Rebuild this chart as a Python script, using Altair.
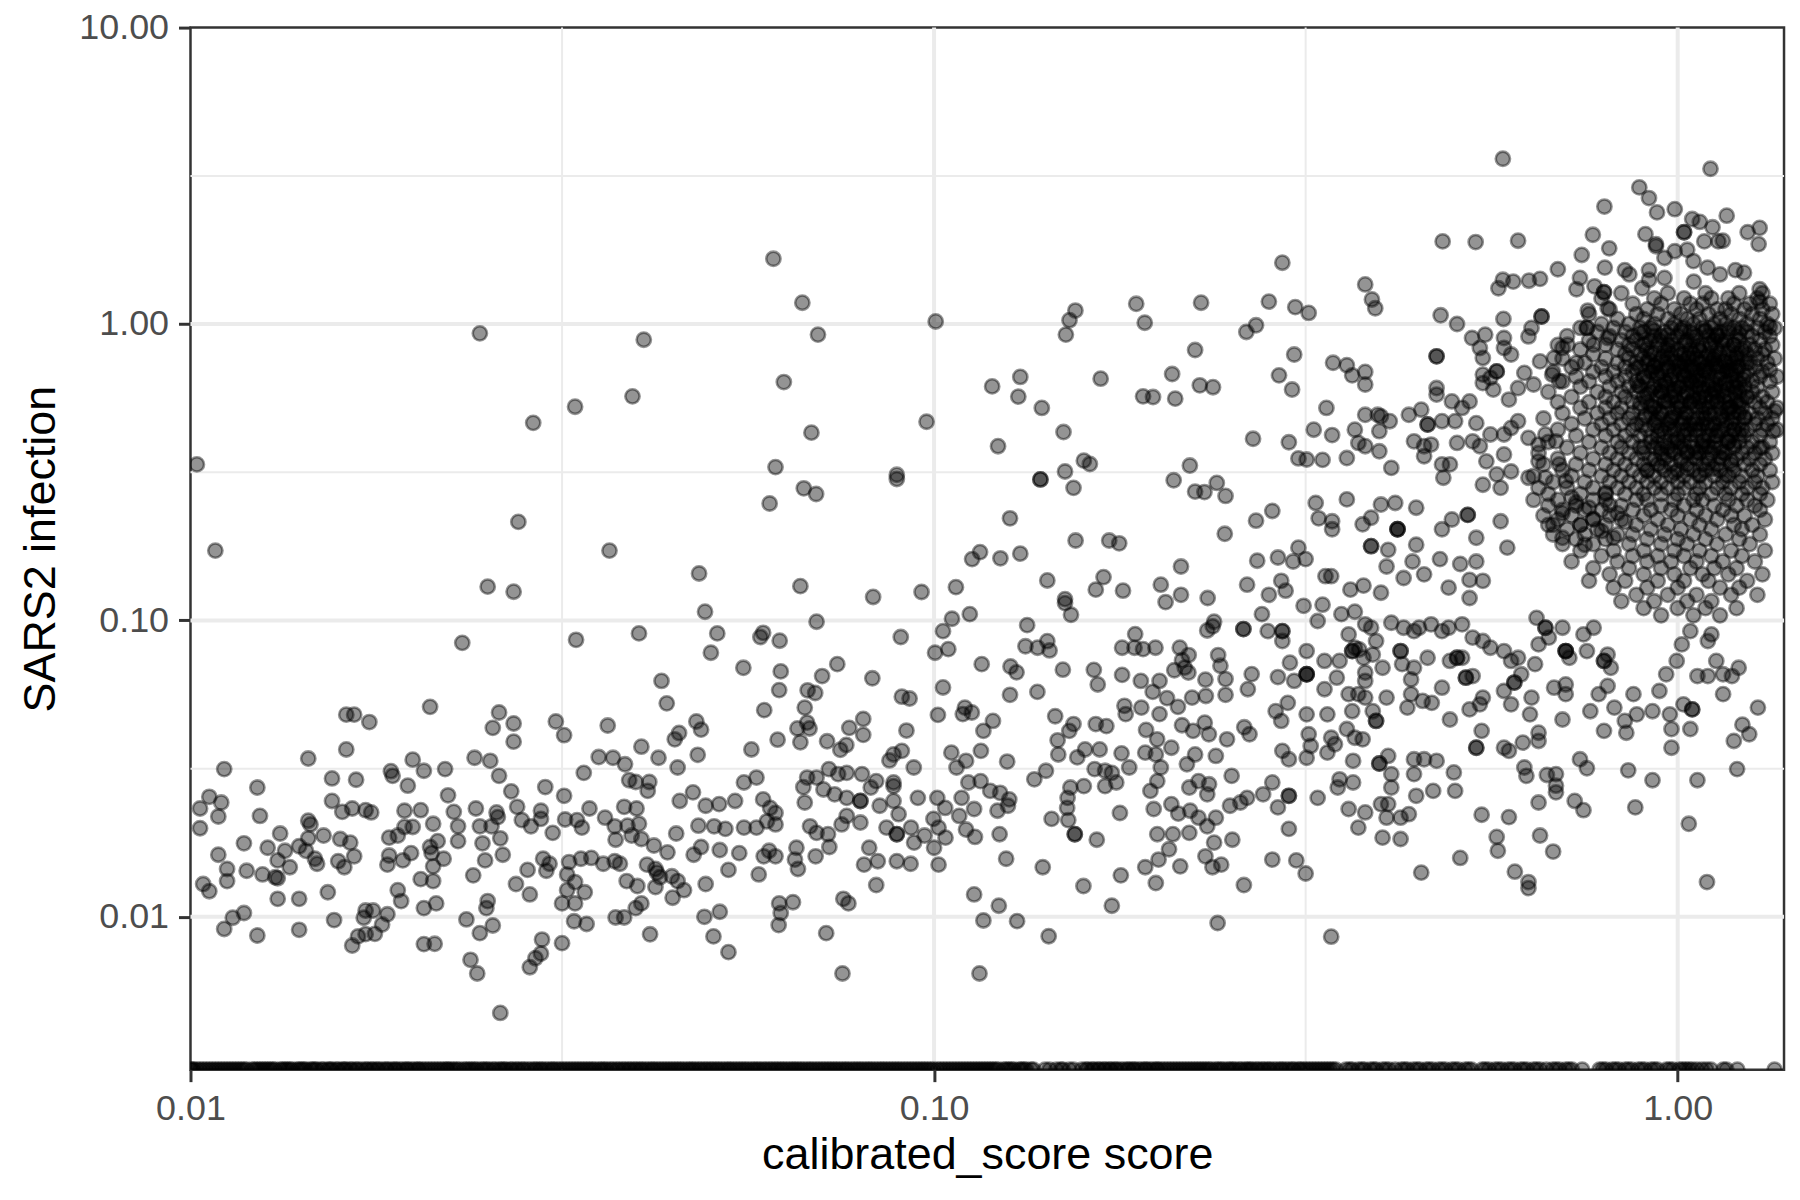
import altair as alt
import pandas as pd

# ---------------- data ----------------
# (score, infection) pairs, grouped by region of the plot
pts_far_left_top = [
    (0.0245, 0.93), (0.0407, 0.885), (0.0393, 0.57), (0.0329, 0.526), (0.0289, 0.464),
    (0.0102, 0.336), (0.0276, 0.215), (0.0108, 0.172), (0.0366, 0.172), (0.0251, 0.130),
    (0.0272, 0.125), (0.0483, 0.144), (0.0492, 0.107), (0.0232, 0.084), (0.0330, 0.086),
    (0.0401, 0.0904), (0.0511, 0.0904), (0.0501, 0.0778),
]

pts_far_left_low = [
    (0.0430, 0.0625), (0.0437, 0.0525), (0.0210, 0.0511), (0.0162, 0.0481), (0.0166, 0.0481),
    (0.0174, 0.0454), (0.0260, 0.0489), (0.0255, 0.0434), (0.0272, 0.0449), (0.0272, 0.0390),
    (0.0310, 0.0456), (0.0318, 0.0410), (0.0364, 0.0442), (0.0479, 0.0456), (0.0486, 0.0428),
    (0.0454, 0.0417), (0.0448, 0.0397), (0.0404, 0.0375), (0.0162, 0.0367), (0.0144, 0.0342),
    (0.0354, 0.0346), (0.0370, 0.0344), (0.0384, 0.0327), (0.0426, 0.0344), (0.0481, 0.0352),
    (0.0452, 0.0319), (0.0199, 0.0339), (0.0206, 0.0311), (0.0220, 0.0315), (0.0241, 0.0344),
    (0.0253, 0.0336), (0.0260, 0.0299), (0.0111, 0.0315), (0.0186, 0.0310), (0.0187, 0.0299),
    (0.0155, 0.0293), (0.0167, 0.0290), (0.0196, 0.0277), (0.0338, 0.0306), (0.0123, 0.0273),
    (0.0300, 0.0274), (0.0270, 0.0265), (0.0389, 0.0289), (0.0397, 0.0285), (0.0414, 0.0285),
    (0.0412, 0.0266), (0.0222, 0.0257), (0.0318, 0.0256), (0.0106, 0.0254), (0.0110, 0.0243),
    (0.0103, 0.0232), (0.0109, 0.0218), (0.0103, 0.0199), (0.0155, 0.0246), (0.0160, 0.0226),
    (0.0165, 0.0232), (0.0172, 0.0229), (0.0175, 0.0225), (0.0124, 0.0219), (0.0194, 0.0228),
    (0.0204, 0.0229), (0.0226, 0.0226), (0.0242, 0.0232), (0.0258, 0.0225), (0.0259, 0.0217),
    (0.0275, 0.0235), (0.0296, 0.0228), (0.0344, 0.0232), (0.0383, 0.0235), (0.0398, 0.0232),
    (0.0474, 0.0263), (0.0455, 0.0246), (0.0493, 0.0237), (0.0514, 0.0240), (0.0319, 0.0213),
    (0.0331, 0.0212), (0.0336, 0.0200), (0.0361, 0.0216), (0.0372, 0.0202), (0.0144, 0.0211),
    (0.0145, 0.0205), (0.0194, 0.0201), (0.0199, 0.0201), (0.0212, 0.0206), (0.0229, 0.0202),
    (0.0245, 0.0202), (0.0254, 0.0202), (0.0279, 0.0212), (0.0287, 0.0202), (0.0296, 0.0214),
    (0.0307, 0.0192), (0.0482, 0.0203), (0.0506, 0.0202), (0.0524, 0.0198), (0.0387, 0.0203),
    (0.0401, 0.0206), (0.0392, 0.0188), (0.0404, 0.0183), (0.0132, 0.0191), (0.0151, 0.0188),
    (0.0159, 0.0183), (0.0164, 0.0178), (0.0185, 0.0185), (0.0190, 0.0188), (0.0215, 0.0180),
    (0.0229, 0.0180), (0.0261, 0.0184), (0.0247, 0.0177), (0.0118, 0.0177), (0.0127, 0.0171),
    (0.0134, 0.0167), (0.0140, 0.0173), (0.0144, 0.0184), (0.0143, 0.0167), (0.0373, 0.0182),
    (0.0450, 0.0191), (0.0420, 0.0174), (0.0438, 0.0165), (0.0475, 0.0162), (0.0486, 0.0172),
    (0.0515, 0.0168), (0.0109, 0.0162), (0.0131, 0.0155), (0.0147, 0.0157), (0.0148, 0.0151),
    (0.0158, 0.0154), (0.0166, 0.0160), (0.0185, 0.0161), (0.0184, 0.0150), (0.0193, 0.0155),
    (0.0198, 0.0164), (0.0210, 0.0172), (0.0211, 0.0164), (0.0219, 0.0157), (0.0249, 0.0155),
    (0.0263, 0.0162), (0.0298, 0.0157), (0.0304, 0.0151), (0.0301, 0.0143), (0.0323, 0.0153),
    (0.0335, 0.0157), (0.0346, 0.0158), (0.0359, 0.0151), (0.0372, 0.0154), (0.0378, 0.0151),
    (0.0112, 0.0145), (0.0119, 0.0143), (0.0125, 0.0139), (0.0130, 0.0136), (0.0131, 0.0135),
    (0.0136, 0.0147), (0.0161, 0.0147), (0.0212, 0.0148), (0.0240, 0.0138), (0.0284, 0.0144),
    (0.0411, 0.0150), (0.0422, 0.0145), (0.0424, 0.0141), (0.0428, 0.0136), (0.0444, 0.0137),
    (0.0452, 0.0132), (0.0104, 0.0129), (0.0106, 0.0122), (0.0112, 0.0132), (0.0131, 0.0115),
    (0.0140, 0.0115), (0.0153, 0.0121), (0.0190, 0.0123), (0.0204, 0.0134), (0.0212, 0.0132),
    (0.0192, 0.0113), (0.0274, 0.0129), (0.0286, 0.0119), (0.0321, 0.0139), (0.0329, 0.0131),
    (0.0321, 0.0123), (0.0339, 0.0121), (0.0316, 0.0111), (0.0329, 0.0111), (0.0386, 0.0132),
    (0.0399, 0.0127), (0.0422, 0.0126), (0.0445, 0.0116), (0.0461, 0.0123), (0.0493, 0.0129),
    (0.0529, 0.0144), (0.0111, 0.00910), (0.0114, 0.00993), (0.0118, 0.0103), (0.0123, 0.00865),
    (0.0140, 0.00904), (0.0156, 0.00975), (0.0165, 0.00800), (0.0168, 0.00859), (0.0172, 0.00874),
    (0.0171, 0.00993), (0.0172, 0.0105), (0.0176, 0.0105), (0.0177, 0.00876), (0.0181, 0.00942),
    (0.0184, 0.0102), (0.0206, 0.0107), (0.0214, 0.0111), (0.0206, 0.00809), (0.0213, 0.00811),
    (0.0235, 0.00980), (0.0245, 0.00881), (0.0251, 0.0113), (0.0250, 0.0107), (0.0255, 0.00935),
    (0.0238, 0.00716), (0.0243, 0.00644), (0.0261, 0.00474), (0.0297, 0.00838), (0.0296, 0.00752),
    (0.0291, 0.00725), (0.0286, 0.00676), (0.0316, 0.00815), (0.0328, 0.00966), (0.0341, 0.00946),
    (0.0373, 0.00995), (0.0383, 0.00995), (0.0397, 0.0107), (0.0404, 0.0111), (0.0415, 0.00873),
    (0.0491, 0.0100), (0.0515, 0.0104), (0.0505, 0.00859), (0.0529, 0.00760),
]

pts_mid_top = [
    (0.0608, 1.66), (0.0665, 1.18), (0.0698, 0.921), (0.1005, 1.02), (0.0628, 0.637),
    (0.0684, 0.430), (0.0977, 0.468), (0.0612, 0.329), (0.0668, 0.279), (0.0694, 0.267),
    (0.0601, 0.248), (0.0891, 0.310), (0.0891, 0.300), (0.1197, 0.616), (0.1306, 0.663),
    (0.1298, 0.569), (0.1396, 0.521), (0.1493, 0.432), (0.1219, 0.387), (0.1549, 1.11),
    (0.1521, 1.03), (0.1504, 0.921), (0.187, 1.17), (0.192, 1.01), (0.2286, 1.18),
    (0.271, 0.99), (0.263, 0.94), (0.2244, 0.817), (0.1675, 0.654), (0.209, 0.678),
    (0.2277, 0.621), (0.2372, 0.612), (0.191, 0.570), (0.197, 0.567), (0.211, 0.560),
    (0.2685, 0.410), (0.159, 0.346), (0.162, 0.337), (0.150, 0.318), (0.139, 0.299),
    (0.139, 0.299), (0.154, 0.280), (0.2208, 0.333), (0.210, 0.297), (0.2244, 0.272),
    (0.231, 0.271), (0.240, 0.291), (0.2466, 0.263), (0.1265, 0.221), (0.271, 0.217),
    (0.246, 0.196), (0.155, 0.186), (0.172, 0.186), (0.1774, 0.182), (0.1153, 0.170),
    (0.1125, 0.161), (0.1228, 0.162), (0.1306, 0.168), (0.2148, 0.152), (0.272, 0.159),
    (0.0661, 0.1305), (0.0828, 0.120), (0.0962, 0.1247), (0.107, 0.1295), (0.142, 0.1364),
    (0.169, 0.140), (0.165, 0.127), (0.1795, 0.126), (0.150, 0.118), (0.150, 0.1144),
    (0.1528, 0.1045), (0.2018, 0.132), (0.2048, 0.1153), (0.2148, 0.122), (0.2333, 0.119),
    (0.2636, 0.132), (0.276, 0.105), (0.0695, 0.099), (0.1117, 0.105), (0.1057, 0.1013),
    (0.1028, 0.092), (0.1334, 0.0964), (0.1864, 0.0899), (0.237, 0.0955), (0.233, 0.0925),
    (0.238, 0.0990), (0.2606, 0.0935), (0.2606, 0.0935), (0.0589, 0.0908), (0.0584, 0.0879),
    (0.0620, 0.0854), (0.0902, 0.0879), (0.1003, 0.0778), (0.1045, 0.080), (0.1327, 0.0818),
    (0.1378, 0.0809), (0.142, 0.0851), (0.143, 0.0792), (0.179, 0.0809), (0.186, 0.0809),
    (0.191, 0.080), (0.1985, 0.0809), (0.214, 0.0809), (0.220, 0.0764), (0.241, 0.0764),
]

pts_mid_low = [
    (0.0554, 0.0692), (0.0622, 0.0673), (0.0619, 0.0582), (0.0707, 0.0649), (0.0741, 0.0712),
    (0.0826, 0.0638), (0.0676, 0.0581), (0.0692, 0.0569), (0.0591, 0.0498), (0.0670, 0.0508),
    (0.0675, 0.0452), (0.0655, 0.0432), (0.0680, 0.0432), (0.0616, 0.0396), (0.0568, 0.0367),
    (0.0661, 0.0388), (0.0718, 0.0391), (0.0748, 0.0366), (0.0762, 0.0380), (0.0769, 0.0434),
    (0.0803, 0.0465), (0.0803, 0.0411), (0.0905, 0.0553), (0.0927, 0.0545), (0.0918, 0.0425),
    (0.0882, 0.0353), (0.0905, 0.0363), (0.0871, 0.0337), (0.0939, 0.0319), (0.1012, 0.0480),
    (0.1028, 0.0594), (0.1159, 0.0712), (0.1267, 0.0699), (0.1291, 0.0668), (0.1265, 0.0561),
    (0.1377, 0.0574), (0.149, 0.0682), (0.164, 0.0681), (0.166, 0.0608), (0.179, 0.0655),
    (0.1897, 0.0625), (0.201, 0.0625), (0.2155, 0.0734), (0.2173, 0.0693), (0.2104, 0.0679),
    (0.2198, 0.0667), (0.2317, 0.0631), (0.2427, 0.0703), (0.2466, 0.0634), (0.2642, 0.0586),
    (0.2674, 0.0659), (0.1968, 0.0574), (0.2057, 0.0547), (0.2128, 0.0511), (0.2223, 0.0549),
    (0.232, 0.0556), (0.2466, 0.0561), (0.1803, 0.0515), (0.190, 0.0508), (0.181, 0.0483),
    (0.1455, 0.0475), (0.154, 0.0447), (0.152, 0.0424), (0.1466, 0.0394), (0.165, 0.0447),
    (0.1705, 0.044), (0.201, 0.0483), (0.1928, 0.0427), (0.1995, 0.0397), (0.2155, 0.0443),
    (0.223, 0.0424), (0.2312, 0.0452), (0.2342, 0.0413), (0.2477, 0.0397), (0.2613, 0.0436),
    (0.2656, 0.0413), (0.110, 0.0508), (0.1093, 0.0483), (0.1124, 0.0489), (0.1165, 0.0424),
    (0.12, 0.0458), (0.1055, 0.0358), (0.1104, 0.0336), (0.1156, 0.0363), (0.1072, 0.0319),
    (0.1112, 0.0284), (0.1155, 0.0287), (0.1254, 0.0334), (0.119, 0.0266), (0.1227, 0.0262),
    (0.1262, 0.0249), (0.1257, 0.0237), (0.1217, 0.0228), (0.101, 0.0252), (0.1035, 0.0233),
    (0.1089, 0.0252), (0.1081, 0.0219), (0.1132, 0.0231), (0.0998, 0.0214), (0.1014, 0.0200),
    (0.1036, 0.0185), (0.1, 0.0171), (0.1014, 0.0150), (0.1104, 0.0197), (0.1135, 0.0186),
    (0.1225, 0.019), (0.125, 0.0157), (0.14, 0.0147), (0.1364, 0.0291), (0.1414, 0.0311),
    (0.1439, 0.0214), (0.1515, 0.0212), (0.1546, 0.019), (0.1546, 0.019), (0.1512, 0.0252),
    (0.1525, 0.0273), (0.159, 0.0276), (0.151, 0.0233), (0.1469, 0.0353), (0.1558, 0.0345),
    (0.1596, 0.0367), (0.167, 0.0367), (0.1644, 0.0315), (0.1698, 0.0311), (0.1734, 0.0306),
    (0.1787, 0.0356), (0.183, 0.0319), (0.1698, 0.0276), (0.1758, 0.0284), (0.1778, 0.0224),
    (0.1655, 0.0182), (0.1783, 0.0138), (0.1588, 0.0127), (0.1734, 0.0109), (0.1923, 0.0358),
    (0.1987, 0.0353), (0.2018, 0.0319), (0.1996, 0.0287), (0.1954, 0.0266), (0.1974, 0.0231),
    (0.2085, 0.0372), (0.2188, 0.0327), (0.2244, 0.0353), (0.2204, 0.0273), (0.2268, 0.0287),
    (0.2343, 0.028), (0.233, 0.0259), (0.2393, 0.0349), (0.2085, 0.024), (0.2130, 0.0223),
    (0.2210, 0.0228), (0.2268, 0.0216), (0.233, 0.0202), (0.2393, 0.0216), (0.2513, 0.0299),
    (0.25, 0.0237), (0.2582, 0.0243), (0.2636, 0.0252), (0.277, 0.0259), (0.1996, 0.019),
    (0.2095, 0.019), (0.2204, 0.0192), (0.207, 0.0169), (0.2004, 0.0156), (0.1923, 0.0147),
    (0.1987, 0.013), (0.2143, 0.0148), (0.2317, 0.016), (0.2368, 0.0147), (0.2433, 0.015),
    (0.238, 0.0178), (0.2518, 0.0182), (0.261, 0.0128), (0.2406, 0.00953), (0.1426, 0.0086),
    (0.1132, 0.0119), (0.1222, 0.0109), (0.1165, 0.00972), (0.1293, 0.00967), (0.1151, 0.00644),
    (0.054, 0.0246), (0.0555, 0.0284), (0.0577, 0.0295), (0.0589, 0.0249), (0.0602, 0.0233),
    (0.0612, 0.0224), (0.0555, 0.020), (0.0577, 0.020), (0.0596, 0.021), (0.0612, 0.0205),
    (0.0547, 0.0164), (0.0581, 0.0139), (0.059, 0.016), (0.060, 0.0167), (0.0612, 0.016),
    (0.0653, 0.0171), (0.0656, 0.0145), (0.065, 0.0156), (0.0675, 0.0295), (0.0667, 0.0274),
    (0.067, 0.0243), (0.0695, 0.0295), (0.071, 0.0269), (0.0735, 0.0259), (0.0722, 0.0315),
    (0.0743, 0.0303), (0.0763, 0.0306), (0.0763, 0.0252), (0.080, 0.0303), (0.0822, 0.0273),
    (0.0796, 0.0246), (0.0796, 0.0246), (0.0681, 0.0202), (0.0695, 0.0192), (0.072, 0.019),
    (0.0723, 0.0172), (0.0693, 0.016), (0.0751, 0.0205), (0.0763, 0.0219), (0.0796, 0.0208),
    (0.0836, 0.0287), (0.0845, 0.0237), (0.0882, 0.0284), (0.0882, 0.0276), (0.0882, 0.0246),
    (0.0896, 0.0222), (0.0891, 0.019), (0.0891, 0.019), (0.0863, 0.020), (0.0931, 0.020),
    (0.0951, 0.0252), (0.094, 0.0178), (0.0818, 0.0171), (0.0805, 0.015), (0.084, 0.0154),
    (0.0836, 0.0128), (0.0891, 0.0154), (0.093, 0.0151), (0.0971, 0.0188), (0.0619, 0.0111),
    (0.0622, 0.0103), (0.0618, 0.00938), (0.0646, 0.0112), (0.0755, 0.0115), (0.0767, 0.0111),
    (0.0716, 0.00881), (0.0753, 0.00644),
]

pts_right_top = [
    (0.582, 3.61), (1.107, 3.34), (0.888, 2.89), (0.915, 2.66), (0.938, 2.38), (0.797, 2.49),
    (0.991, 2.44), (1.046, 2.26), (1.071, 2.21), (1.114, 2.12), (1.164, 2.32), (1.242, 2.04),
    (1.289, 2.11), (1.285, 1.86), (0.769, 2.0), (0.809, 1.80), (0.743, 1.71), (0.905, 2.01),
    (0.935, 1.86), (0.935, 1.83), (1.02, 2.04), (1.02, 2.04), (1.086, 1.90), (1.134, 1.90),
    (1.15, 1.91), (0.960, 1.67), (0.991, 1.76), (1.03, 1.78), (1.05, 1.63), (1.097, 1.55),
    (1.14, 1.47), (1.196, 1.52), (1.228, 1.49), (0.483, 1.90), (0.535, 1.89), (0.610, 1.91),
    (0.294, 1.61), (0.690, 1.53), (0.582, 1.41), (0.574, 1.32), (0.601, 1.39), (0.631, 1.40),
    (0.653, 1.42), (0.739, 1.43), (0.731, 1.31), (0.773, 1.34), (0.796, 1.28), (0.796, 1.28),
    (0.798, 1.55), (0.849, 1.52), (0.861, 1.47), (0.915, 1.52), (0.915, 1.41), (0.896, 1.32),
    (0.960, 1.43), (1.051, 1.39), (1.289, 1.31), (1.289, 1.19), (0.282, 1.19), (0.306, 1.14),
    (0.319, 1.09), (0.380, 1.36), (0.388, 1.21), (0.392, 1.13), (0.480, 1.07), (0.505, 1.0),
    (0.583, 1.04), (0.656, 1.06), (0.656, 1.06), (0.636, 0.97), (0.63, 0.908), (0.757, 1.11),
    (0.805, 1.13), (1.33, 0.98), (1.33, 0.70), (1.35, 0.508), (1.345, 0.435), (1.29, 0.382),
    (0.305, 0.789), (0.291, 0.671), (0.303, 0.601), (0.344, 0.74), (0.359, 0.726), (0.365, 0.671),
    (0.380, 0.689), (0.380, 0.625), (0.474, 0.778), (0.474, 0.778), (0.529, 0.897), (0.551, 0.921),
    (0.542, 0.83), (0.547, 0.768), (0.584, 0.897), (0.584, 0.83), (0.597, 0.789), (0.547, 0.675),
    (0.571, 0.692), (0.571, 0.692), (0.560, 0.658), (0.565, 0.601), (0.547, 0.632), (0.622, 0.684),
    (0.640, 0.625), (0.610, 0.608), (0.593, 0.556), (0.653, 0.748), (0.682, 0.768), (0.700, 0.83),
    (0.711, 0.851), (0.678, 0.675), (0.693, 0.641), (0.731, 0.74), (0.755, 0.97), (0.755, 0.97),
    (0.771, 0.851), (0.805, 0.897), (0.337, 0.521), (0.324, 0.44), (0.343, 0.422), (0.30, 0.399),
    (0.309, 0.352), (0.317, 0.349), (0.333, 0.348), (0.359, 0.353), (0.368, 0.44), (0.380, 0.494),
    (0.395, 0.494), (0.399, 0.488), (0.41, 0.47), (0.397, 0.435), (0.372, 0.397), (0.380, 0.387),
    (0.397, 0.372), (0.412, 0.327), (0.435, 0.494), (0.452, 0.514), (0.461, 0.458), (0.461, 0.458),
    (0.456, 0.387), (0.442, 0.402), (0.466, 0.392), (0.482, 0.47), (0.502, 0.47), (0.513, 0.521),
    (0.525, 0.548), (0.536, 0.463), (0.474, 0.608), (0.474, 0.578), (0.497, 0.548), (0.505, 0.397),
    (0.530, 0.402), (0.542, 0.387), (0.482, 0.336), (0.494, 0.336), (0.484, 0.303), (0.456, 0.358),
    (0.56, 0.424), (0.584, 0.424), (0.597, 0.446), (0.61, 0.47), (0.63, 0.413), (0.650, 0.392),
    (0.664, 0.424), (0.686, 0.402), (0.553, 0.344), (0.571, 0.311), (0.584, 0.363), (0.597, 0.318),
    (0.63, 0.303), (0.65, 0.344), (0.664, 0.303), (0.693, 0.336), (0.707, 0.295), (0.547, 0.287),
    (0.578, 0.28),
]

pts_right_low = [
    (0.285, 0.234), (0.326, 0.249), (0.329, 0.221), (0.343, 0.216), (0.343, 0.203), (0.359, 0.256),
    (0.377, 0.211), (0.387, 0.222), (0.387, 0.178), (0.387, 0.178), (0.399, 0.246), (0.417, 0.249),
    (0.420, 0.203), (0.420, 0.203), (0.420, 0.203), (0.445, 0.24), (0.482, 0.203), (0.497, 0.219),
    (0.522, 0.227), (0.522, 0.227), (0.536, 0.19), (0.578, 0.216), (0.59, 0.176), (0.408, 0.173),
    (0.406, 0.152), (0.445, 0.18), (0.44, 0.158), (0.428, 0.139), (0.456, 0.143), (0.479, 0.161),
    (0.492, 0.129), (0.51, 0.155), (0.536, 0.158), (0.525, 0.137), (0.547, 0.136), (0.525, 0.119),
    (0.29, 0.163), (0.304, 0.158), (0.316, 0.161), (0.309, 0.176), (0.293, 0.136), (0.297, 0.126),
    (0.282, 0.122), (0.336, 0.141), (0.342, 0.141), (0.363, 0.127), (0.378, 0.131), (0.399, 0.124),
    (0.314, 0.112), (0.333, 0.113), (0.328, 0.0995), (0.353, 0.105), (0.368, 0.107), (0.361, 0.0897),
    (0.38, 0.097), (0.387, 0.0945), (0.393, 0.0852), (0.368, 0.0809), (0.412, 0.0982), (0.428, 0.0945),
    (0.442, 0.092), (0.281, 0.092), (0.294, 0.092), (0.294, 0.092), (0.294, 0.0852), (0.317, 0.0788),
    (0.301, 0.072), (0.317, 0.0658), (0.317, 0.0658), (0.317, 0.0658), (0.29, 0.0644), (0.305, 0.0625),
    (0.335, 0.073), (0.348, 0.0641), (0.335, 0.0586), (0.351, 0.073), (0.365, 0.0788), (0.365, 0.0788),
    (0.373, 0.0798), (0.378, 0.0748), (0.389, 0.0767), (0.401, 0.0692), (0.38, 0.0667), (0.38, 0.0625),
    (0.361, 0.0564), (0.372, 0.0564), (0.365, 0.0494), (0.38, 0.0549), (0.389, 0.0494), (0.393, 0.0458),
    (0.393, 0.0458), (0.406, 0.0549), (0.424, 0.0788), (0.424, 0.0788), (0.426, 0.0712), (0.442, 0.0692),
    (0.461, 0.0748), (0.438, 0.0632), (0.438, 0.0564), (0.454, 0.0535), (0.467, 0.0527), (0.433, 0.0508),
    (0.482, 0.0593), (0.494, 0.073), (0.505, 0.0748), (0.505, 0.0748), (0.519, 0.0641), (0.519, 0.0641),
    (0.513, 0.0748), (0.53, 0.0649), (0.547, 0.0549), (0.525, 0.0501), (0.542, 0.0521), (0.449, 0.0945),
    (0.466, 0.097), (0.482, 0.092), (0.492, 0.0945), (0.513, 0.097), (0.53, 0.0875), (0.547, 0.0852),
    (0.56, 0.0809), (0.584, 0.0788), (0.597, 0.073), (0.61, 0.0748), (0.616, 0.0658), (0.603, 0.0617),
    (0.603, 0.0617), (0.584, 0.0578), (0.597, 0.0521), (0.636, 0.0549), (0.633, 0.0482), (0.494, 0.0463),
    (0.545, 0.0424), (0.536, 0.0372), (0.536, 0.0372), (0.584, 0.0372), (0.593, 0.0363), (0.619, 0.0387),
    (0.65, 0.0392), (0.65, 0.0418), (0.70, 0.0463), (0.707, 0.0608), (0.707, 0.0564), (0.682, 0.0593),
    (0.646, 0.102), (0.664, 0.0945), (0.664, 0.0945), (0.65, 0.083), (0.643, 0.0712), (0.671, 0.0875),
    (0.70, 0.0945), (0.707, 0.0788), (0.707, 0.0788), (0.707, 0.0788), (0.715, 0.0748), (0.747, 0.0897),
    (0.771, 0.0945), (0.755, 0.0788), (0.796, 0.073), (0.796, 0.073), (0.805, 0.0767), (0.813, 0.0692),
    (0.763, 0.0494), (0.783, 0.0564), (0.805, 0.0601), (0.796, 0.0424), (0.822, 0.0508), (0.849, 0.0458),
    (0.853, 0.0418), (0.872, 0.0564), (0.881, 0.0482), (0.925, 0.0494), (0.945, 0.0578), (0.976, 0.0482),
    (0.981, 0.043), (0.981, 0.0372), (1.018, 0.0521), (1.046, 0.0501), (1.046, 0.0501), (1.04, 0.043),
    (0.997, 0.073), (1.013, 0.083), (1.04, 0.092), (1.098, 0.0852), (1.11, 0.0897), (1.127, 0.073),
    (1.098, 0.0649), (1.063, 0.0649), (1.151, 0.0658), (1.208, 0.0692), (1.183, 0.0649), (1.151, 0.0564),
    (1.19, 0.0392), (1.222, 0.0445), (1.248, 0.0413), (1.282, 0.0508), (1.202, 0.0315), (0.965, 0.0658),
    (0.739, 0.034), (0.755, 0.0317), (0.858, 0.0312), (0.925, 0.0289), (1.063, 0.0289), (0.877, 0.0234),
    (1.035, 0.0206), (0.622, 0.0319), (0.626, 0.0299), (0.667, 0.0301), (0.686, 0.0303), (0.686, 0.0277),
    (0.686, 0.0263), (0.727, 0.0246), (0.747, 0.0229), (0.65, 0.0243), (0.593, 0.0217), (0.545, 0.0221),
    (0.571, 0.0186), (0.653, 0.0188), (0.50, 0.0307), (0.502, 0.0266), (0.469, 0.0266), (0.445, 0.0256),
    (0.442, 0.0303), (0.442, 0.034), (0.456, 0.034), (0.474, 0.0336), (0.408, 0.0349), (0.397, 0.0329),
    (0.397, 0.0329), (0.412, 0.0303), (0.412, 0.0273), (0.399, 0.024), (0.408, 0.024), (0.406, 0.0216),
    (0.424, 0.0216), (0.435, 0.0222), (0.38, 0.0225), (0.372, 0.020), (0.401, 0.0185), (0.424, 0.0183),
    (0.366, 0.0336), (0.351, 0.0291), (0.366, 0.0284), (0.349, 0.0273), (0.328, 0.0252), (0.30, 0.0256),
    (0.30, 0.0256), (0.29, 0.0234), (0.30, 0.0198), (0.361, 0.0231), (0.319, 0.0413), (0.321, 0.0377),
    (0.342, 0.0402), (0.346, 0.0382), (0.338, 0.0358), (0.368, 0.0402), (0.377, 0.0397), (0.359, 0.043),
    (0.317, 0.0344), (0.30, 0.034), (0.294, 0.0363), (0.285, 0.0284), (0.288, 0.0494), (0.293, 0.0458),
    (0.299, 0.0527), (0.317, 0.0482), (0.338, 0.0482), (0.285, 0.0156), (0.307, 0.0155), (0.316, 0.014),
    (0.452, 0.0141), (0.51, 0.0158), (0.573, 0.0167), (0.604, 0.0142), (0.63, 0.0131), (0.63, 0.0125),
    (0.68, 0.0166), (1.095, 0.0131), (0.342, 0.00857),
]

# dense cluster near score ~1: infection level of each row and the scores seen on it
cluster_rows = [
    (1.27, [0.84, 0.97, 1.09, 1.21, 1.30]),
    (1.22, [0.79, 0.93, 1.02, 1.11, 1.17, 1.28]),
    (1.17, [0.87, 0.95, 1.04, 1.08, 1.19, 1.25, 1.33]),
    (1.12, [0.81, 0.91, 0.99, 1.06, 1.13, 1.16, 1.23, 1.30]),
    (1.08, [0.76, 0.88, 0.94, 1.01, 1.10, 1.18, 1.26, 1.34]),
    (1.04, [0.83, 0.90, 0.97, 1.03, 1.07, 1.14, 1.21, 1.29]),
    (1.00, [0.79, 0.86, 0.93, 0.99, 1.05, 1.12, 1.16, 1.24, 1.32]),
    (0.97, [0.74, 0.82, 0.89, 0.92, 0.98, 1.02, 1.08, 1.11, 1.19, 1.22, 1.28, 1.35]),
    (0.94, [0.78, 0.85, 0.90, 0.96, 1.01, 1.04, 1.09, 1.14, 1.17, 1.24, 1.31]),
    (0.91, [0.71, 0.81, 0.87, 0.93, 0.95, 1.00, 1.06, 1.10, 1.13, 1.20, 1.26, 1.33]),
    (0.88, [0.76, 0.84, 0.88, 0.92, 0.98, 1.03, 1.05, 1.12, 1.16, 1.21, 1.29]),
    (0.85, [0.69, 0.80, 0.86, 0.90, 0.94, 0.97, 1.02, 1.08, 1.11, 1.15, 1.19, 1.25, 1.34]),
    (0.82, [0.74, 0.83, 0.87, 0.91, 0.96, 1.00, 1.04, 1.07, 1.13, 1.17, 1.22, 1.27, 1.31]),
    (0.79, [0.77, 0.85, 0.89, 0.93, 0.98, 1.01, 1.05, 1.10, 1.14, 1.20, 1.24, 1.30]),
    (0.765, [0.70, 0.80, 0.86, 0.90, 0.95, 0.97, 1.03, 1.06, 1.09, 1.12, 1.18, 1.22, 1.28, 1.35]),
    (0.74, [0.75, 0.83, 0.88, 0.91, 0.94, 0.99, 1.02, 1.07, 1.11, 1.16, 1.19, 1.25, 1.32]),
    (0.715, [0.72, 0.79, 0.85, 0.89, 0.93, 0.97, 1.01, 1.04, 1.09, 1.13, 1.17, 1.21, 1.27]),
    (0.69, [0.68, 0.77, 0.82, 0.87, 0.92, 0.95, 0.99, 1.03, 1.06, 1.10, 1.15, 1.20, 1.24, 1.30]),
    (0.665, [0.73, 0.80, 0.85, 0.90, 0.94, 0.98, 1.02, 1.05, 1.08, 1.13, 1.18, 1.23, 1.29, 1.36]),
    (0.64, [0.70, 0.76, 0.83, 0.88, 0.91, 0.96, 1.00, 1.04, 1.07, 1.11, 1.16, 1.20, 1.26, 1.33]),
    (0.615, [0.74, 0.81, 0.86, 0.89, 0.93, 0.97, 1.01, 1.06, 1.10, 1.14, 1.19, 1.23, 1.28]),
    (0.59, [0.67, 0.78, 0.84, 0.88, 0.92, 0.95, 0.99, 1.03, 1.08, 1.12, 1.15, 1.21, 1.26, 1.34]),
    (0.568, [0.72, 0.80, 0.85, 0.90, 0.94, 0.98, 1.02, 1.05, 1.09, 1.13, 1.18, 1.24, 1.30]),
    (0.545, [0.69, 0.76, 0.82, 0.87, 0.91, 0.96, 1.00, 1.04, 1.07, 1.11, 1.16, 1.20, 1.27, 1.32]),
    (0.522, [0.74, 0.80, 0.84, 0.89, 0.93, 0.97, 1.01, 1.06, 1.10, 1.14, 1.18, 1.22, 1.29, 1.36]),
    (0.50, [0.70, 0.78, 0.83, 0.87, 0.92, 0.95, 0.99, 1.03, 1.08, 1.12, 1.17, 1.21, 1.25, 1.31]),
    (0.48, [0.66, 0.75, 0.81, 0.86, 0.90, 0.94, 0.98, 1.02, 1.05, 1.09, 1.14, 1.19, 1.23, 1.28, 1.34]),
    (0.46, [0.72, 0.79, 0.84, 0.88, 0.93, 0.97, 1.01, 1.04, 1.08, 1.12, 1.16, 1.21, 1.27, 1.32]),
    (0.44, [0.69, 0.77, 0.82, 0.87, 0.91, 0.95, 0.99, 1.03, 1.07, 1.11, 1.15, 1.19, 1.24, 1.30, 1.36]),
    (0.42, [0.73, 0.80, 0.85, 0.89, 0.94, 0.98, 1.02, 1.06, 1.10, 1.13, 1.18, 1.23, 1.29]),
    (0.40, [0.67, 0.76, 0.83, 0.87, 0.92, 0.96, 1.00, 1.04, 1.08, 1.12, 1.17, 1.21, 1.26, 1.33]),
    (0.383, [0.71, 0.79, 0.84, 0.89, 0.93, 0.97, 1.01, 1.05, 1.09, 1.14, 1.19, 1.24, 1.30]),
    (0.367, [0.65, 0.74, 0.81, 0.86, 0.90, 0.95, 0.99, 1.03, 1.07, 1.11, 1.16, 1.22, 1.27, 1.34]),
    (0.351, [0.69, 0.77, 0.83, 0.88, 0.92, 0.96, 1.01, 1.06, 1.10, 1.15, 1.20, 1.25, 1.31]),
    (0.336, [0.66, 0.73, 0.80, 0.85, 0.90, 0.94, 0.98, 1.03, 1.08, 1.13, 1.18, 1.23, 1.29]),
    (0.321, [0.70, 0.76, 0.82, 0.87, 0.91, 0.96, 1.00, 1.05, 1.09, 1.14, 1.19, 1.26, 1.33]),
    (0.307, [0.64, 0.72, 0.79, 0.84, 0.89, 0.93, 0.98, 1.02, 1.07, 1.12, 1.17, 1.22, 1.28]),
    (0.293, [0.68, 0.75, 0.81, 0.86, 0.91, 0.95, 1.00, 1.04, 1.09, 1.15, 1.21, 1.27, 1.34]),
    (0.280, [0.65, 0.71, 0.77, 0.83, 0.88, 0.93, 0.97, 1.02, 1.07, 1.13, 1.18, 1.24, 1.30]),
    (0.267, [0.67, 0.74, 0.80, 0.85, 0.90, 0.95, 1.00, 1.06, 1.11, 1.16, 1.22, 1.29]),
    (0.255, [0.64, 0.69, 0.77, 0.80, 0.88, 0.91, 0.99, 1.05, 1.08, 1.17, 1.24, 1.32]),
    (0.244, [0.67, 0.73, 0.84, 0.95, 1.02, 1.12, 1.20, 1.27]),
    (0.236, [0.70, 0.75, 0.79, 0.87, 0.92, 0.98, 1.06, 1.15, 1.29]),
    (0.226, [0.66, 0.72, 0.81, 0.90, 1.00, 1.09, 1.18, 1.23]),
    (0.219, [0.69, 0.77, 0.84, 0.94, 1.04, 1.13, 1.31]),
    (0.210, [0.67, 0.74, 0.80, 0.88, 0.97, 1.07, 1.19, 1.26]),
    (0.203, [0.71, 0.78, 0.92, 1.01, 1.11, 1.22]),
    (0.195, [0.68, 0.75, 0.83, 0.87, 0.96, 1.05, 1.16, 1.29]),
    (0.188, [0.73, 0.80, 0.91, 1.00, 1.09, 1.21]),
    (0.181, [0.70, 0.77, 0.86, 0.95, 1.03, 1.13, 1.25]),
    (0.172, [0.74, 0.82, 0.90, 0.99, 1.07, 1.18, 1.31]),
    (0.165, [0.79, 0.87, 0.94, 1.02, 1.11, 1.22]),
    (0.158, [0.72, 0.83, 0.91, 0.98, 1.06, 1.15, 1.27]),
    (0.150, [0.77, 0.86, 0.95, 1.04, 1.12, 1.20]),
    (0.143, [0.81, 0.90, 0.99, 1.08, 1.17, 1.30]),
    (0.136, [0.76, 0.85, 0.94, 1.02, 1.10, 1.24]),
    (0.129, [0.82, 0.91, 1.00, 1.14, 1.21]),
    (0.122, [0.88, 0.97, 1.06, 1.18, 1.28]),
    (0.116, [0.84, 0.93, 1.03, 1.11]),
    (0.110, [0.90, 1.00, 1.09, 1.20]),
    (0.104, [0.95, 1.05, 1.14]),
]

# extra points in the blackest part of the cluster
cluster_core = [
    (0.93, 0.72), (0.97, 0.70), (1.01, 0.73), (1.05, 0.71), (1.09, 0.69), (1.14, 0.72),
    (1.18, 0.70), (0.95, 0.62), (0.99, 0.60), (1.03, 0.63), (1.07, 0.61), (1.12, 0.60),
    (1.16, 0.63), (1.20, 0.61), (0.92, 0.53), (0.96, 0.55), (1.00, 0.52), (1.04, 0.54),
    (1.08, 0.53), (1.13, 0.55), (1.17, 0.52), (1.21, 0.54), (0.94, 0.45), (0.98, 0.47),
    (1.02, 0.44), (1.06, 0.46), (1.10, 0.45), (1.15, 0.47), (1.19, 0.44), (0.95, 0.38),
    (0.99, 0.40), (1.03, 0.37), (1.08, 0.39), (1.12, 0.38), (1.17, 0.40), (0.92, 0.80),
    (0.97, 0.82), (1.02, 0.79), (1.07, 0.81), (1.12, 0.78), (1.17, 0.80), (0.72, 0.26),
    (0.76, 0.24), (0.80, 0.27), (0.74, 0.21), (0.79, 0.20), (0.83, 0.23), (0.70, 0.19),
    (0.905, 0.86), (0.945, 0.88), (0.985, 0.85), (1.025, 0.87), (1.065, 0.84), (1.105, 0.86),
    (1.145, 0.88), (1.19, 0.85), (1.23, 0.83), (0.915, 0.76), (0.955, 0.78), (0.995, 0.75),
    (1.035, 0.77), (1.075, 0.74), (1.115, 0.76), (1.155, 0.75), (1.20, 0.77), (1.24, 0.74),
    (0.90, 0.66), (0.94, 0.68), (0.98, 0.65), (1.02, 0.67), (1.06, 0.645), (1.10, 0.665),
    (1.14, 0.655), (1.185, 0.675), (1.225, 0.65), (0.91, 0.58), (0.95, 0.59), (0.99, 0.57),
    (1.03, 0.585), (1.07, 0.565), (1.11, 0.58), (1.155, 0.57), (1.195, 0.585), (1.24, 0.565),
    (0.905, 0.49), (0.945, 0.505), (0.985, 0.485), (1.025, 0.50), (1.065, 0.48), (1.105, 0.495),
    (1.145, 0.49), (1.19, 0.505), (1.23, 0.485), (0.92, 0.415), (0.96, 0.43), (1.00, 0.41),
    (1.04, 0.425), (1.085, 0.405), (1.125, 0.42), (1.165, 0.41), (1.21, 0.425), (0.93, 0.35),
    (0.97, 0.36), (1.01, 0.345), (1.055, 0.355), (1.10, 0.34), (1.14, 0.355), (1.18, 0.345),
    (0.89, 0.93), (0.93, 0.95), (0.97, 0.92), (1.01, 0.96), (1.05, 0.93), (1.09, 0.95),
    (1.13, 0.92), (1.17, 0.96), (1.21, 0.93), (0.88, 0.71), (0.925, 0.69), (0.965, 0.735),
    (1.005, 0.695), (1.045, 0.725), (1.085, 0.70), (1.125, 0.73), (1.165, 0.695), (1.205, 0.72),
    (0.885, 0.62), (0.925, 0.605), (0.965, 0.63), (1.005, 0.61), (1.045, 0.635), (1.085, 0.60),
    (1.125, 0.625), (1.17, 0.605), (1.21, 0.63), (0.89, 0.54), (0.93, 0.525), (0.97, 0.55),
    (1.01, 0.53), (1.05, 0.555), (1.09, 0.52), (1.13, 0.545), (1.175, 0.525), (1.215, 0.55),
    (0.895, 0.455), (0.935, 0.47), (0.975, 0.445), (1.015, 0.465), (1.055, 0.44), (1.095, 0.46),
    (1.135, 0.435), (1.18, 0.465), (1.22, 0.44), (0.90, 0.385), (0.94, 0.395), (0.98, 0.375),
    (1.02, 0.39), (1.06, 0.37), (1.10, 0.385), (1.15, 0.37), (1.19, 0.39), (0.91, 0.32),
    (0.95, 0.33), (0.99, 0.315), (1.03, 0.325), (1.07, 0.31), (1.115, 0.325), (1.16, 0.31),
    (0.70, 0.23), (0.73, 0.25), (0.77, 0.22), (0.81, 0.245), (0.85, 0.215), (0.75, 0.18),
    (0.82, 0.19), (0.68, 0.21),
]

# scores of the points with no infection, drawn on the lower edge of the panel
zero_scores = [
    0.0100, 0.0101, 0.0103, 0.0105, 0.0106, 0.0108, 0.0110, 0.0112, 0.0114, 0.0115, 0.0117, 0.0119,
    0.0122, 0.0124, 0.0126, 0.0128, 0.0130, 0.0133, 0.0135, 0.0137, 0.0140, 0.0142, 0.0145, 0.0147,
    0.0150, 0.0153, 0.0155, 0.0158, 0.0161, 0.0164, 0.0167, 0.0170, 0.0173, 0.0176, 0.0179, 0.0183,
    0.0186, 0.0189, 0.0193, 0.0196, 0.0200, 0.0203, 0.0207, 0.0211, 0.0215, 0.0219, 0.0222, 0.0226,
    0.0230, 0.0235, 0.0239, 0.0243, 0.0248, 0.0252, 0.0257, 0.0262, 0.0266, 0.0271, 0.0276, 0.0281,
    0.0287, 0.0292, 0.0297, 0.0303, 0.0308, 0.0314, 0.0320, 0.0326, 0.0332, 0.0338, 0.0344, 0.0350,
    0.0357, 0.0363, 0.0370, 0.0377, 0.0384, 0.0391, 0.0398, 0.0405, 0.0413, 0.0420, 0.0428, 0.0436,
    0.0444, 0.0452, 0.0460, 0.0469, 0.0477, 0.0486, 0.0495, 0.0504, 0.0513, 0.0523, 0.0532, 0.0542,
    0.0552, 0.0562, 0.0573, 0.0583, 0.0594, 0.0605, 0.0616, 0.0627, 0.0639, 0.0650, 0.0662, 0.0675,
    0.0687, 0.0700, 0.0713, 0.0726, 0.0739, 0.0753, 0.0766, 0.0781, 0.0795, 0.0810, 0.0824, 0.0840,
    0.0855, 0.0871, 0.0887, 0.0903, 0.0920, 0.0937, 0.0954, 0.0971, 0.0989, 0.101, 0.103, 0.105,
    0.107, 0.109, 0.111, 0.113, 0.115, 0.117, 0.119, 0.121, 0.124, 0.126, 0.128, 0.131, 0.133, 0.136,
    0.141, 0.146, 0.149, 0.152, 0.158, 0.161, 0.164, 0.167, 0.170, 0.173, 0.176, 0.180, 0.183, 0.186,
    0.190, 0.193, 0.197, 0.200, 0.204, 0.208, 0.212, 0.216, 0.220, 0.224, 0.228, 0.232, 0.236, 0.241,
    0.245, 0.250, 0.254, 0.259, 0.264, 0.268, 0.273, 0.278, 0.283, 0.289, 0.294, 0.300, 0.305, 0.311,
    0.317, 0.323, 0.329, 0.335, 0.341, 0.347, 0.358, 0.365, 0.372, 0.379, 0.386, 0.393, 0.401, 0.409,
    0.417, 0.425, 0.433, 0.441, 0.450, 0.459, 0.468, 0.477, 0.487, 0.497, 0.507, 0.518, 0.528, 0.546,
    0.557, 0.568, 0.580, 0.591, 0.603, 0.615, 0.627, 0.640, 0.653, 0.666, 0.679, 0.693, 0.707, 0.721,
    0.744, 0.785, 0.801, 0.817, 0.833, 0.850, 0.867, 0.885, 0.903, 0.921, 0.939, 0.966, 0.985, 1.005,
    1.025, 1.046, 1.061, 1.078, 1.093, 1.108, 1.152, 1.163, 1.203, 1.35,
]
zero_scores_more = [
    0.01005, 0.0102, 0.0104, 0.0107, 0.0109, 0.0111, 0.0113, 0.0116, 0.0118, 0.0121, 0.0123, 0.0125,
    0.0127, 0.0129, 0.0132, 0.0134, 0.0136, 0.0139, 0.0141, 0.0143, 0.0146, 0.0148, 0.0151, 0.0154,
    0.0157, 0.0160, 0.0162, 0.0165, 0.0168, 0.0172, 0.0175, 0.0178, 0.0181, 0.0184, 0.0188, 0.0191,
    0.0195, 0.0198, 0.0202, 0.0205, 0.0209, 0.0213, 0.0217, 0.0221, 0.0224, 0.0228, 0.0233, 0.0237,
    0.0241, 0.0246, 0.0250, 0.0255, 0.0260, 0.0264, 0.0269, 0.0274, 0.0279, 0.0284, 0.0290, 0.0295,
    0.0300, 0.0306, 0.0311, 0.0317, 0.0323, 0.0329, 0.0335, 0.0341, 0.0347, 0.0354, 0.0360, 0.0367,
    0.0374, 0.0381, 0.0388, 0.0395, 0.0402, 0.0409, 0.0417, 0.0424, 0.0432, 0.0440, 0.0448, 0.0456,
    0.0465, 0.0473, 0.0482, 0.0491, 0.0500, 0.0509, 0.0518, 0.0528, 0.0537, 0.0547, 0.0557, 0.0568,
    0.0578, 0.0589, 0.0600, 0.0611, 0.0622, 0.0633, 0.0645, 0.0656, 0.0668, 0.0681, 0.0694, 0.0707,
    0.0720, 0.0733, 0.0746, 0.0760, 0.0774, 0.0788, 0.0802, 0.0817, 0.0832, 0.0848, 0.0863, 0.0879,
    0.0895, 0.0912, 0.0929, 0.0946, 0.0963, 0.0980, 0.0998, 0.102, 0.104, 0.106, 0.108, 0.110, 0.112,
    0.114, 0.116, 0.118, 0.120, 0.122, 0.125, 0.127, 0.130, 0.132, 0.135, 0.143, 0.148, 0.154, 0.160,
    0.163, 0.166, 0.169, 0.172, 0.175, 0.178, 0.182, 0.185, 0.188, 0.192, 0.195, 0.199, 0.202, 0.206,
    0.210, 0.214, 0.218, 0.222, 0.226, 0.230, 0.234, 0.239, 0.243, 0.248, 0.252, 0.257, 0.262, 0.266,
    0.271, 0.276, 0.281, 0.286, 0.292, 0.297, 0.303, 0.309, 0.314, 0.320, 0.326, 0.332, 0.338, 0.344,
    0.362, 0.376, 0.390, 0.405, 0.429, 0.446, 0.463, 0.482, 0.502, 0.523, 0.551, 0.574, 0.597, 0.621,
    0.646, 0.686, 0.714, 0.793, 0.825, 0.858, 0.894, 0.930, 0.975, 1.015, 1.035,
]

# axis setup
X_DOMAIN = [0.01, 1.39]
Y_DOMAIN = [0.00305, 10.0]
x_ticks = [0.01, 0.1, 1.0]
y_ticks = [0.01, 0.1, 1.0, 10.0]
x_grid_major = [0.1, 1.0]
x_grid_minor = [0.0316, 0.316]
y_grid_major = [0.01, 0.1, 1.0]
y_grid_minor = [0.0316, 0.316, 3.16]
X_TITLE = "calibrated_score score"
Y_TITLE = "SARS2 infection"

# ---------------- build tables ----------------
pairs = (pts_far_left_top + pts_far_left_low + pts_mid_top + pts_mid_low
         + pts_right_top + pts_right_low + cluster_core)
for yv, xs_row in cluster_rows:
    pairs += [(xv, yv) for xv in xs_row]
df = pd.DataFrame(pairs, columns=["score", "infection"])
zs = zero_scores + zero_scores_more
df_zero = pd.DataFrame({"score": zs, "infection": [Y_DOMAIN[0]] * len(zs)})

xs = alt.Scale(type="log", domain=X_DOMAIN, nice=False, zero=False)
ys = alt.Scale(type="log", domain=Y_DOMAIN, nice=False, zero=False)

FONT = "Liberation Sans"
GRID = "#EBEBEB"

x_axis = alt.Axis(values=x_ticks, format=".2f", grid=False, domain=False,
                  tickColor="#333333", tickWidth=3, tickSize=12,
                  labelFont=FONT, labelFontSize=36, labelColor="#4D4D4D",
                  labelPadding=10, labelFlush=False, labelOverlap=False,
                  titleFont=FONT, titleFontSize=45, titleFontWeight="normal",
                  titleColor="black", titlePadding=6)
y_axis = alt.Axis(values=y_ticks, format=".2f", grid=False, domain=False,
                  tickColor="#333333", tickWidth=3, tickSize=12,
                  labelFont=FONT, labelFontSize=36, labelColor="#4D4D4D",
                  labelPadding=10, labelFlush=False, labelOverlap=False,
                  titleFont=FONT, titleFontSize=45, titleFontWeight="normal",
                  titleColor="black", titlePadding=15)

def X(field):
    return alt.X(field, scale=xs, axis=x_axis, title=X_TITLE)

def Y(field):
    return alt.Y(field, scale=ys, axis=y_axis, title=Y_TITLE)

def vrules(vals, w):
    return alt.Chart(pd.DataFrame({"v": vals})).mark_rule(color=GRID, strokeWidth=w).encode(
        x=X("v:Q"))

def hrules(vals, w):
    return alt.Chart(pd.DataFrame({"v": vals})).mark_rule(color=GRID, strokeWidth=w).encode(
        y=Y("v:Q"))

point_style = dict(size=205, fill="black", fillOpacity=0.42, stroke="black",
                   strokeOpacity=0.42, strokeWidth=2.6, clip=True)

zeros = alt.Chart(df_zero).mark_circle(**point_style).encode(
    x=X("score:Q"), y=Y("infection:Q"))
points = alt.Chart(df).mark_circle(**point_style).encode(
    x=X("score:Q"), y=Y("infection:Q"))

chart = alt.layer(
    vrules(x_grid_minor, 2), hrules(y_grid_minor, 2),
    vrules(x_grid_major, 4), hrules(y_grid_major, 4),
    zeros, points,
).properties(
    width=1598, height=1045, background="white",
    autosize=alt.AutoSizeParams(type="none"),
    padding={"left": 183, "top": 18, "right": 8, "bottom": 118},
).configure_view(
    stroke="#333333", strokeWidth=2.5, fill="white"
)

chart.save("out.html", embed_options={"renderer": "svg", "actions": False})
